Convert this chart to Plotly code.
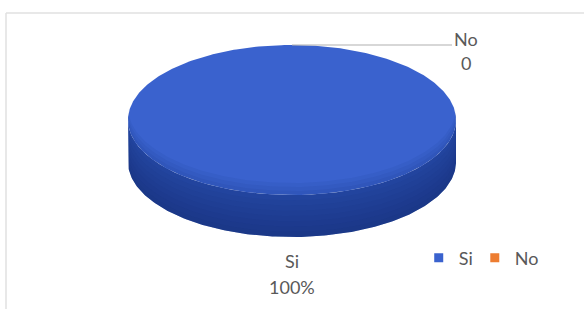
import numpy as np
import plotly.graph_objects as go

categories = ["Si", "No"]
values = [100, 0]
pct_labels = ["100%", "0"]
colors_top = ["rgb(58,98,206)", "rgb(237,125,49)"]
colors_side = ["rgb(34,68,158)", "rgb(190,95,30)"]

W, H = 584, 309
cx, cy, rx, ry, depth = 292, 120, 164, 75, 42

def pt(theta, dy=0.0):
    # theta measured clockwise from the top (12 o'clock), radians
    return cx + rx * np.sin(theta), cy - ry * np.cos(theta) + dy

fig = go.Figure()

# chart border (left and top edges visible in the crop)
fig.add_shape(type="line", x0=6, y0=13, x1=6, y1=H + 5,
              line=dict(color="rgb(225,225,225)", width=1.5), layer="below")
fig.add_shape(type="line", x0=6, y0=13, x1=W + 5, y1=13,
              line=dict(color="rgb(225,225,225)", width=1.5), layer="below")

total = float(sum(values))
start = 0.0
slices = []
for cat, v, ct, cs in zip(categories, values, colors_top, colors_side):
    frac = v / total if total else 0
    end = start + frac * 2 * np.pi
    slices.append((cat, start, end, ct, cs, frac))
    start = end

# sides (front visible part: theta between pi/2 and 3pi/2), gradient bands
for cat, a0, a1, ct, cs, frac in slices:
    if frac <= 0:
        continue
    lo, hi = max(a0, np.pi / 2), min(a1, 3 * np.pi / 2)
    if hi > lo:
        t = np.linspace(lo, hi, 200)
        xs_top, ys_top = pt(t)
        xs_bot, ys_bot = pt(t[::-1], depth)
        fig.add_trace(go.Scatter(x=np.concatenate([xs_top, xs_bot]),
                                 y=np.concatenate([ys_top, ys_bot]),
                                 fill="toself", fillcolor=cs, mode="lines",
                                 line=dict(width=0), showlegend=False, hoverinfo="skip"))
        for k in range(1, 8):
            xs_m, ys_m = pt(t, depth * k / 8)
            fig.add_trace(go.Scatter(x=np.concatenate([xs_m, xs_bot]),
                                     y=np.concatenate([ys_m, ys_bot]),
                                     fill="toself", fillcolor="rgba(15,30,90,0.05)", mode="lines",
                                     line=dict(width=0), showlegend=False, hoverinfo="skip"))

# top faces
for cat, a0, a1, ct, cs, frac in slices:
    if frac <= 0:
        continue
    t = np.linspace(a0, a1, 400)
    xs, ys = pt(t)
    if frac < 1:
        xs = np.concatenate([[cx], xs, [cx]])
        ys = np.concatenate([[cy], ys, [cy]])
    fig.add_trace(go.Scatter(x=xs, y=ys, fill="toself", fillcolor=ct, mode="lines",
                             line=dict(width=0), showlegend=False, hoverinfo="skip"))
    for k in range(3):
        tt = np.linspace(np.pi / 2, 3 * np.pi / 2, 200)
        xa, ya = pt(tt)
        xb, yb = pt(tt[::-1], -4 - 4 * k)
        fig.add_trace(go.Scatter(x=np.concatenate([xa, xb]), y=np.concatenate([ya, yb]),
                                 fill="toself", fillcolor="rgba(20,40,120,0.07)", mode="lines",
                                 line=dict(width=0), showlegend=False, hoverinfo="skip"))

font = dict(family="Lato", size=18, color="rgb(89,89,89)")

# data labels
for cat, a0, a1, ct, cs, frac in slices:
    mid = (a0 + a1) / 2
    lbl = pct_labels[categories.index(cat)]
    if frac <= 0:
        x0, y0 = pt(mid)
        fig.add_trace(go.Scatter(x=[x0, x0 + 160], y=[y0, y0], mode="lines",
                                 line=dict(color="rgb(175,175,175)", width=1),
                                 showlegend=False, hoverinfo="skip"))
        fig.add_annotation(x=x0 + 174, y=y0 - 6, text=cat, showarrow=False, font=font)
        fig.add_annotation(x=x0 + 174, y=y0 + 18, text=lbl, showarrow=False, font=font)
    else:
        x0, y0 = pt(mid, depth)
        fig.add_annotation(x=x0, y=y0 + 24, text=cat, showarrow=False, font=font)
        fig.add_annotation(x=x0, y=y0 + 50, text=lbl, showarrow=False, font=font)

# legend entries (one legend box per entry for tight spacing)
legend_names = ["legend", "legend2"]
legend_x = [0.717, 0.813]
for cat, ct, lg in zip(categories, colors_top, legend_names):
    fig.add_trace(go.Scatter(x=[None], y=[None], mode="markers", name=cat, legend=lg,
                             marker=dict(symbol="square", size=9, color=ct)))

legend_common = dict(orientation="h", y=0.165, xanchor="left", yanchor="middle",
                     font=font, itemwidth=30, bgcolor="rgba(0,0,0,0)")

fig.update_layout(
    width=W, height=H, margin=dict(l=0, r=0, t=0, b=0, autoexpand=False),
    paper_bgcolor="white", plot_bgcolor="white",
    xaxis=dict(range=[0, W], visible=False, fixedrange=True),
    yaxis=dict(range=[H, 0], visible=False, fixedrange=True),
    showlegend=True,
    legend=dict(x=legend_x[0], **legend_common),
    legend2=dict(x=legend_x[1], **legend_common),
)

fig.write_html("out.html", config={"displayModeBar": False},
               post_script="document.body.style.margin='0';document.body.style.overflow='hidden';")
